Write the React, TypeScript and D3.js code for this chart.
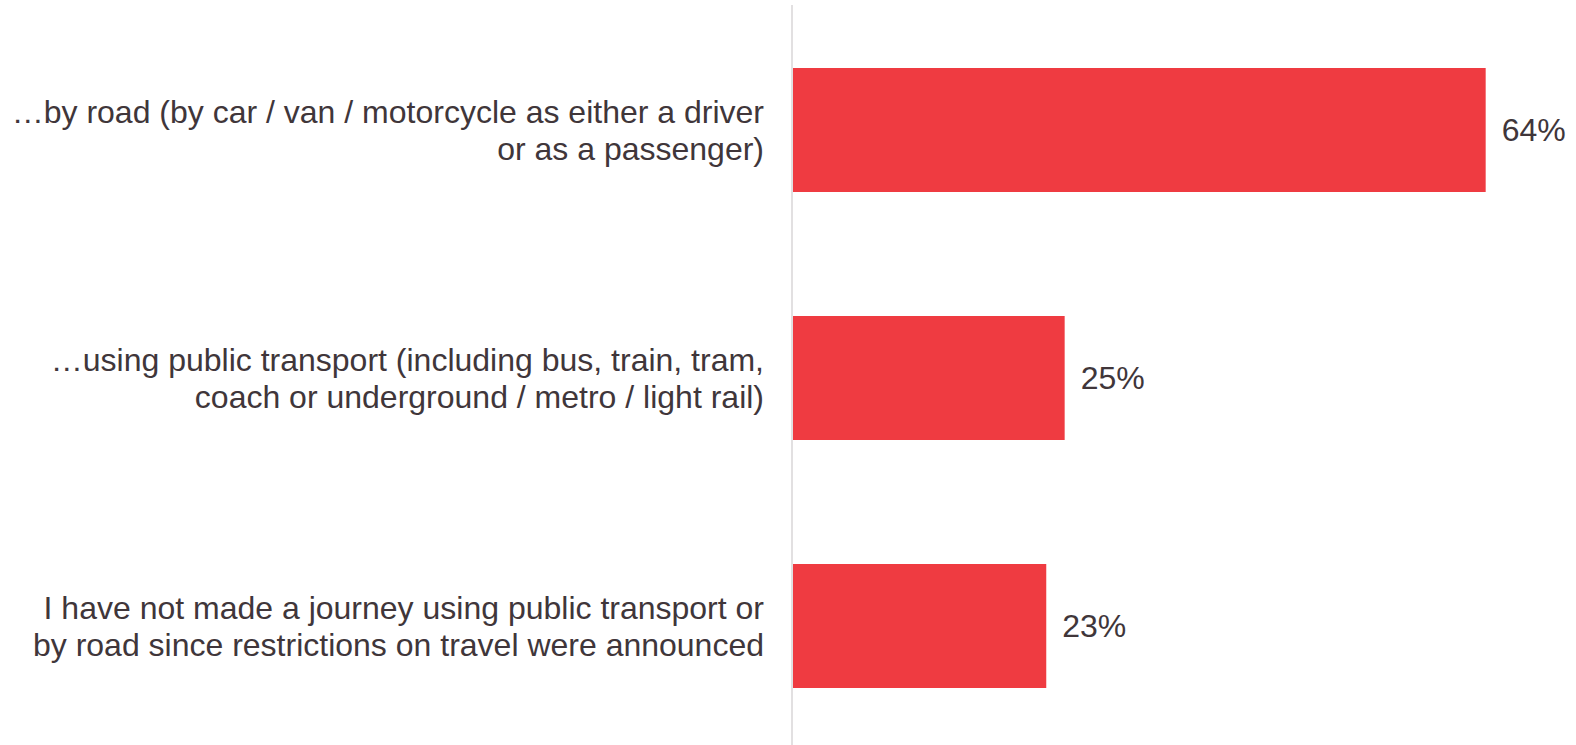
import React from "react";
import * as d3 from "d3";

const categories: string[][] = [
  ["…by road (by car / van / motorcycle as either a driver", "or as a passenger)"],
  ["…using public transport (including bus, train, tram,", "coach or underground / metro / light rail)"],
  ["I have not made a journey using public transport or", "by road since restrictions on travel were announced"],
];
const values: number[] = [64, 25.1, 23.4];
const valueLabels: string[] = ["64%", "25%", "23%"];

const W = 1576;
const H = 745;
const x0 = 793;
const pxPerUnit = 10.823;
const textColor = "#40363a";
const barColor = "#ef3b41";

export default function App() {
  const ids = categories.map((_, i) => String(i));
  const y = d3.scaleBand<string>().domain(ids).range([6, 750]).paddingInner(0.5).paddingOuter(0.25);
  const x = d3.scaleLinear().domain([0, 64]).range([x0, x0 + 64 * pxPerUnit]);
  const fs = 32;
  const lh = 37;
  return (
    <svg width={W} height={H} style={{ position: "absolute", left: 0, top: 0, background: "#fff" }}
      fontFamily="Liberation Sans, Arial, sans-serif">
      <line x1={x0 - 1} x2={x0 - 1} y1={5} y2={H} stroke="#d9d6d7" strokeWidth={1.5} />
      {values.map((v, i) => {
        const yy = y(String(i))!;
        const bw = y.bandwidth();
        const cy = yy + bw / 2;
        return (
          <g key={i}>
            <rect x={x(0)} y={yy} width={x(v) - x(0)} height={bw} fill={barColor} />
            <text x={x(v) + 16} y={cy} dy="0.35em" fontSize={32} fill={textColor}>{valueLabels[i]}</text>
            {categories[i].map((line, j) => (
              <text key={j} x={764} y={cy + (j - (categories[i].length - 1) / 2) * lh} dy="0.35em"
                textAnchor="end" fontSize={fs} fill={textColor}>{line}</text>
            ))}
          </g>
        );
      })}
    </svg>
  );
}
